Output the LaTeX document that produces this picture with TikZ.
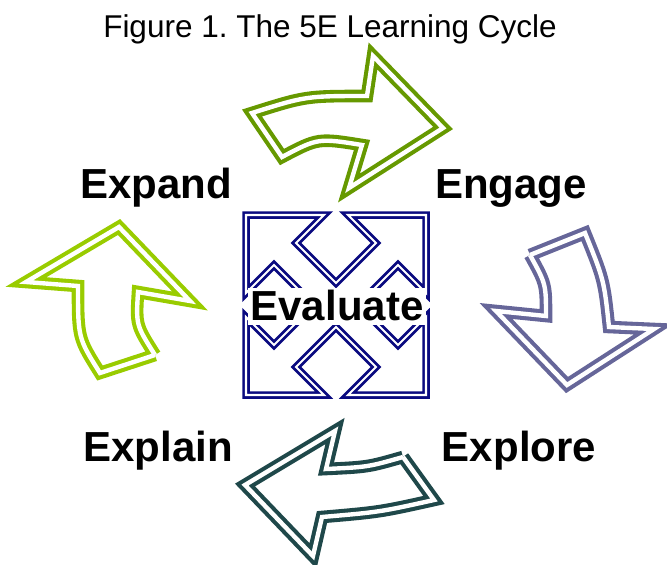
\documentclass[tikz,border=0pt]{standalone}
\usepackage{fontspec}
\setmainfont{Liberation Sans}
\definecolor{cEngage}{RGB}{102,153,0}
\definecolor{cExplore}{RGB}{102,102,153}
\definecolor{cExplain}{RGB}{31,72,74}
\definecolor{cExpand}{RGB}{153,204,0}
\definecolor{cEval}{RGB}{10,10,128}
\begin{document}
\begin{tikzpicture}[x=1pt,y=-1pt,
  cyclearrow/.style={line width=4.1pt, double=white, double distance=4.4pt, line join=miter, miter limit=10},
  evalbox/.style={draw=cEval, line width=2.7pt, double=white, double distance=2.1pt, line join=miter, miter limit=10},
  phase/.style={font=\fontsize{42}{48}\selectfont\bfseries, anchor=base, inner sep=0pt},
  titletext/.style={font=\fontsize{31.5}{36}\selectfont, anchor=base, inner sep=0pt}]
\useasboundingbox (0,0) rectangle (667,565);

\node[titletext] (title) at (330,37.3) {Figure 1.\ The 5E Learning Cycle};

% Engage arrow (top, pointing right)
\draw[cyclearrow, draw=cEngage] (252,113) .. controls (306,96) .. (367,96)
  -- (373,56) -- (443,128) -- (349,188) -- (362,145)
  .. controls (318,138) .. (282,157) -- cycle;

% Explore arrow (right, pointing down)
\draw[cyclearrow, draw=cExplore] (530,255) -- (585,233)
  .. controls (604,280) .. (609,327) -- (654,329) -- (567,385) -- (496,311) -- (546,316)
  .. controls (546,284) .. (530,255);

% Explain arrow (bottom, pointing left)
\draw[cyclearrow, draw=cExplain] (403,457) -- (434,500)
  .. controls (380,512) .. (322,517) -- (313,556) -- (245,485) -- (335,431) -- (326,469)
  .. controls (368,467) .. (403,457);

% Expand arrow (left, pointing up)
\draw[cyclearrow, draw=cExpand] (155,355) -- (100,373)
  .. controls (78,338) .. (78,286) -- (26,282) -- (119,227) -- (190,301) -- (138,292)
  .. controls (136,325) .. (155,355);

% Evaluate quad arrow
\draw[evalbox, shift={(336,305)}]
  (-90,-90) -- (-12,-90) -- (-40,-62) -- (0,-22) -- (40,-62) -- (12,-90)
  -- (90,-90) -- (90,-12) -- (62,-40) -- (22,0) -- (62,40) -- (90,12)
  -- (90,90) -- (12,90) -- (40,62) -- (0,22) -- (-40,62) -- (-12,90)
  -- (-90,90) -- (-90,12) -- (-62,40) -- (-22,0) -- (-62,-40) -- (-90,-12) -- cycle;

\node[phase, fill=white, inner xsep=3pt, inner ysep=2pt, text depth=3pt] (evaluate) at (337,320) {Evaluate};

\node[phase] (expand) at (156,198) {Expand};
\node[phase] (engage) at (511,198) {Engage};
\node[phase] (explain) at (158,461.5) {Explain};
\node[phase] (explore) at (519,461.5) {Explore};
\end{tikzpicture}
\end{document}
